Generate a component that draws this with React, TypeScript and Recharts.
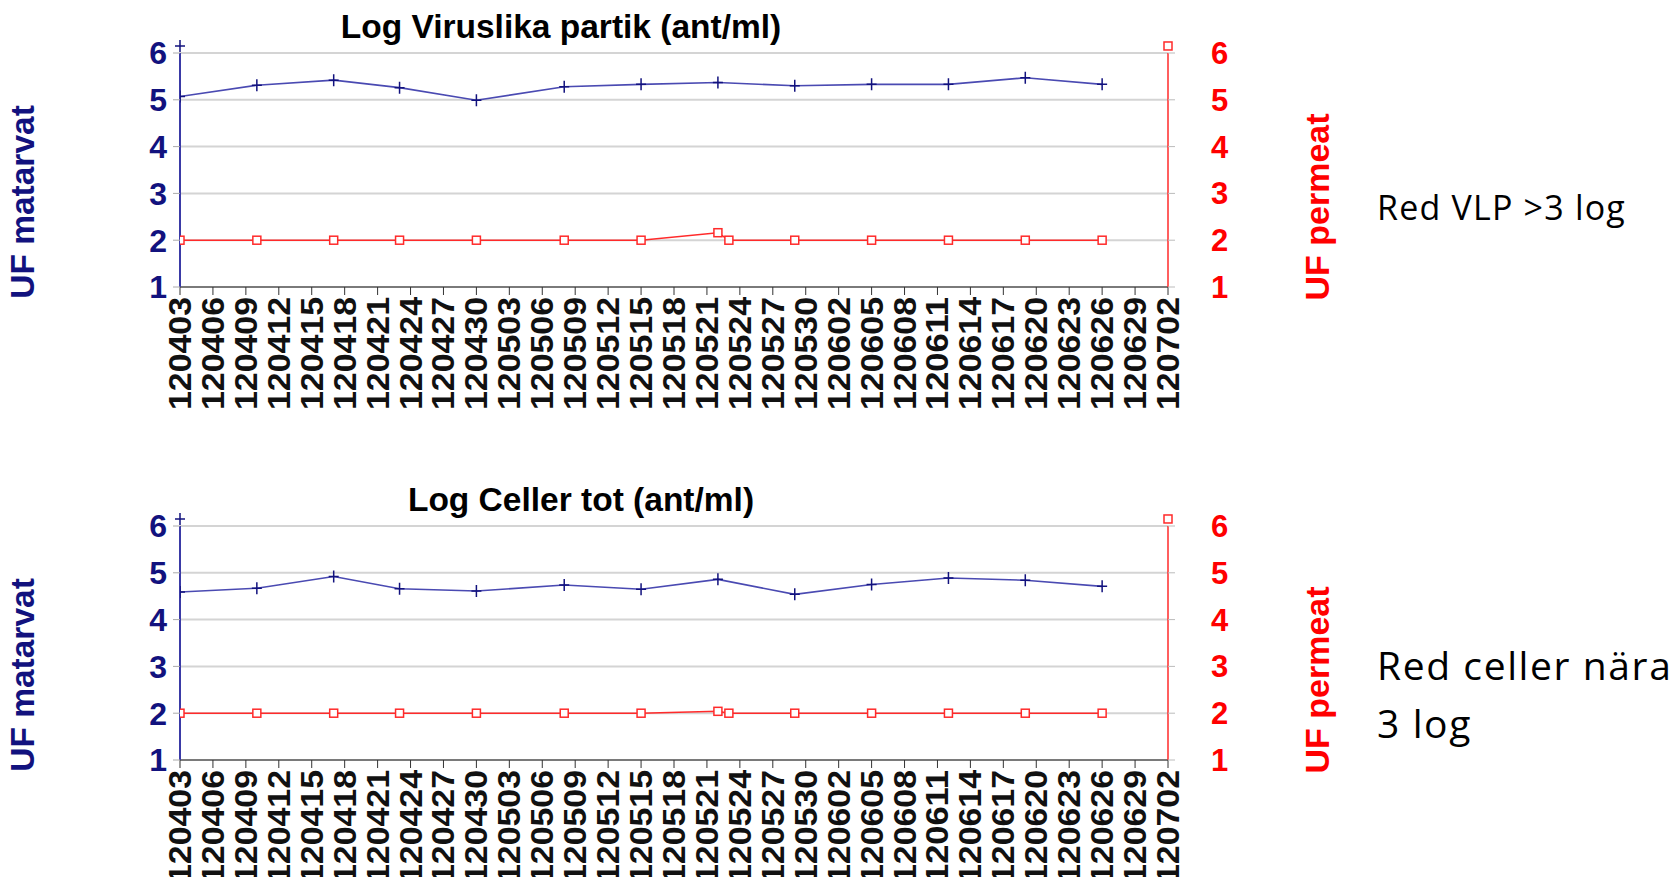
import { LineChart, Line, XAxis, YAxis, CartesianGrid, ReferenceDot } from 'recharts'

// x axis: days since 2012-04-03, labelled every third day
const tickDays = [0, 3, 6, 9, 12, 15, 18, 21, 24, 27, 30, 33, 36, 39, 42, 45, 48, 51, 54, 57, 60, 63, 66, 69, 72, 75, 78, 81, 84, 87, 90]
const tickLabels = [
  '120403', '120406', '120409', '120412', '120415', '120418', '120421', '120424',
  '120427', '120430', '120503', '120506', '120509', '120512', '120515', '120518',
  '120521', '120524', '120527', '120530', '120602', '120605', '120608', '120611',
  '120614', '120617', '120620', '120623', '120626', '120629', '120702'
]
const yTicks = [1, 2, 3, 4, 5, 6]

// sampling days
const feedDays = [0, 7, 14, 20, 27, 35, 42, 49, 56, 63, 70, 77, 84]
const permeatDays = [0, 7, 14, 20, 27, 35, 42, 49, 50, 56, 63, 70, 77, 84]

// log virus-like particles
const vlpFeed = [5.07, 5.31, 5.42, 5.26, 4.99, 5.28, 5.33, 5.37, 5.3, 5.33, 5.33, 5.47, 5.33]
const vlpPermeat = [2, 2, 2, 2, 2, 2, 2, 2.16, 2, 2, 2, 2, 2, 2]

// log total cells
const cellFeed = [4.59, 4.67, 4.92, 4.66, 4.61, 4.74, 4.65, 4.86, 4.54, 4.75, 4.89, 4.84, 4.71]
const cellPermeat = [2, 2, 2, 2, 2, 2, 2, 2.04, 2, 2, 2, 2, 2, 2]

const ARIAL = '"Liberation Sans", Arial, sans-serif'
const NAVY = '#12127e'
const BLUE = '#4a4ab2'
const RED = '#ff2a2a'

const DateTick = (props: any) => {
  const { x, y, payload } = props
  const label = tickLabels[tickDays.indexOf(payload.value)]
  return (
    <text
      x={x}
      y={y}
      transform={`rotate(-90 ${x} ${y})`}
      textAnchor="end"
      dominantBaseline="central"
      fontSize={32}
      fontWeight="bold"
      fontFamily={ARIAL}
      fill="#111"
      textLength={113}
      lengthAdjust="spacingAndGlyphs"
    >
      {label}
    </text>
  )
}

const PlusDot = (props: any) => {
  const { cx, cy } = props
  if (cx == null || cy == null) return <g />
  return <path d={`M${cx - 5},${cy}H${cx + 5}M${cx},${cy - 6}V${cy + 6}`} stroke={NAVY} strokeWidth={1.5} fill="none" />
}

const SquareDot = (props: any) => {
  const { cx, cy } = props
  if (cx == null || cy == null) return <g />
  return <rect x={cx - 4} y={cy - 4} width={8} height={8} fill="#fff" stroke={RED} strokeWidth={1.5} />
}

const Panel = ({ top, title, titleX, feed, permeat }: any) => {
  const feedData = feedDays.map((d, i) => ({ day: d, v: feed[i] }))
  const permData = permeatDays.map((d, i) => ({ day: d, v: permeat[i] }))
  return (
    <div style={{ position: 'absolute', left: 0, top, width: 1669, height: 440 }}>
      <div
        style={{
          position: 'absolute', left: titleX, top: 27, transform: 'translate(-50%, -50%)',
          fontFamily: ARIAL, fontWeight: 'bold', fontSize: 33.5, whiteSpace: 'nowrap', color: '#000'
        }}
      >
        {title}
      </div>
      <div
        style={{
          position: 'absolute', left: 23, top: 202, transform: 'translate(-50%, -50%) rotate(-90deg)',
          fontFamily: ARIAL, fontWeight: 'bold', fontSize: 33.5, whiteSpace: 'nowrap', color: NAVY
        }}
      >
        UF matarvat
      </div>
      <div
        style={{
          position: 'absolute', left: 1317, top: 207, transform: 'translate(-50%, -50%) rotate(-90deg)',
          fontFamily: ARIAL, fontWeight: 'bold', fontSize: 34, whiteSpace: 'nowrap', color: '#ff0000'
        }}
      >
        UF permeat
      </div>
      <div style={{ position: 'absolute', left: 0, top: 0 }}>
        <LineChart width={1669} height={440} margin={{ top: 53, right: 381, bottom: 23, left: 120 }}>
          <CartesianGrid yAxisId="left" vertical={false} stroke="#d4d4d4" strokeWidth={2} />
          <XAxis
            dataKey="day"
            type="number"
            domain={[0, 90]}
            ticks={tickDays}
            interval={0}
            height={130}
            tickSize={8}
            tickMargin={2}
            tick={<DateTick />}
            axisLine={{ stroke: '#7a7a7a', strokeWidth: 2 }}
            tickLine={{ stroke: '#333' }}
            allowDataOverflow
          />
          <YAxis
            yAxisId="left"
            domain={[1, 6]}
            ticks={yTicks}
            width={60}
            tickSize={7}
            tickMargin={6}
            axisLine={{ stroke: '#3a3aa6', strokeWidth: 2 }}
            tickLine={{ stroke: '#aaa' }}
            tick={{ fill: NAVY, fontSize: 32, fontWeight: 'bold', fontFamily: ARIAL }}
          />
          <YAxis
            yAxisId="right"
            orientation="right"
            domain={[1, 6]}
            ticks={yTicks}
            width={120}
            tickSize={7}
            tickMargin={36}
            axisLine={{ stroke: RED, strokeWidth: 1.5 }}
            tickLine={{ stroke: '#bbb' }}
            tick={{ fill: '#ff0000', fontSize: 31, fontWeight: 'bold', fontFamily: ARIAL, textAnchor: 'start' }}
          />
          <Line
            yAxisId="left"
            data={feedData}
            dataKey="v"
            type="linear"
            stroke={BLUE}
            strokeWidth={1.6}
            dot={<PlusDot />}
            activeDot={false}
            isAnimationActive={false}
          />
          <Line
            yAxisId="right"
            data={permData}
            dataKey="v"
            type="linear"
            stroke={RED}
            strokeWidth={1.5}
            dot={<SquareDot />}
            activeDot={false}
            isAnimationActive={false}
          />
          <ReferenceDot yAxisId="left" x={0} y={6.15} ifOverflow="visible" shape={<PlusDot />} />
          <ReferenceDot yAxisId="right" x={90} y={6.15} ifOverflow="visible" shape={<SquareDot />} />
        </LineChart>
      </div>
    </div>
  )
}

const noteStyle: any = {
  position: 'absolute',
  left: 1377,
  fontFamily: '"Open Sans", "Noto Sans", sans-serif',
  fontSize: 34,
  letterSpacing: 1.2,
  color: '#000',
  whiteSpace: 'nowrap',
  lineHeight: '58px'
}

export default function App() {
  return (
    <div style={{ position: 'fixed', left: 0, top: 0, width: 1669, height: 877, background: '#fff', overflow: 'hidden' }}>
      <Panel top={0} title="Log Viruslika partik (ant/ml)" titleX={561} feed={vlpFeed} permeat={vlpPermeat} />
      <Panel top={473} title="Log Celler tot (ant/ml)" titleX={581} feed={cellFeed} permeat={cellPermeat} />
      <div style={{ ...noteStyle, top: 178 }}>Red VLP &gt;3 log</div>
      <div style={{ ...noteStyle, top: 636, fontSize: 39, letterSpacing: 1.6 }}>
        Red celler nära
        <br />
        3 log
      </div>
    </div>
  )
}
